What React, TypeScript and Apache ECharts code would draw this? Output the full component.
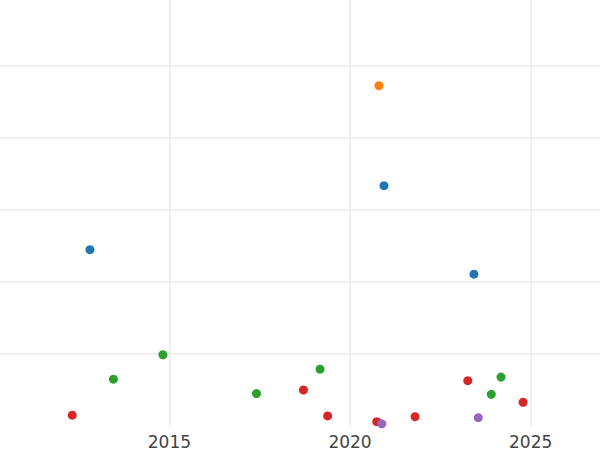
import React, { useEffect, useRef } from "react";
import * as echarts from "echarts";

const xTickLabels = ["2015", "2020", "2025"];
const xMin = 2010.31;
const xMax = 2026.92;

const blueSeries: [number, number][] = [
  [2012.8, 2.45],
  [2020.94, 3.34],
  [2023.43, 2.11],
];
const orangeSeries: [number, number][] = [[2020.8, 4.73]];
const greenSeries: [number, number][] = [
  [2013.45, 0.65],
  [2014.82, 0.99],
  [2017.41, 0.45],
  [2019.17, 0.79],
  [2023.91, 0.44],
  [2024.18, 0.68],
];
const redSeries: [number, number][] = [
  [2012.31, 0.15],
  [2018.71, 0.5],
  [2019.38, 0.14],
  [2020.74, 0.06],
  [2021.8, 0.13],
  [2023.26, 0.63],
  [2024.79, 0.33],
];
const purpleSeries: [number, number][] = [
  [2020.88, 0.03],
  [2023.55, 0.115],
];

const seriesList = [
  { name: "A", color: "#1f77b4", data: blueSeries },
  { name: "B", color: "#ff7f0e", data: orangeSeries },
  { name: "C", color: "#2ca02c", data: greenSeries },
  { name: "D", color: "#d62728", data: redSeries },
  { name: "E", color: "#9467bd", data: purpleSeries },
];

export default function App() {
  const ref = useRef<HTMLDivElement>(null);
  useEffect(() => {
    if (!ref.current) return;
    const chart = echarts.init(ref.current, undefined, { renderer: "svg" });
    chart.setOption({
      animation: false,
      backgroundColor: "#ffffff",
      grid: { left: 0, right: 0, top: 0, bottom: 24, containLabel: false },
      xAxis: {
        type: "value",
        min: xMin,
        max: xMax,
        splitNumber: 3,
        axisLine: { show: false },
        axisTick: { show: false },
        axisLabel: {
          showMinLabel: false,
          showMaxLabel: false,
          color: "#444444",
          fontSize: 17,
          fontFamily: "DejaVu Sans",
          margin: 7,
          formatter: (v: number) => {
            const s = String(Math.round(v));
            return xTickLabels.includes(s) ? s : "";
          },
        },
        splitLine: {
          show: true,
          showMinLine: false,
          showMaxLine: false,
          lineStyle: { color: "#ebebeb", width: 1.5 },
        },
      },
      yAxis: {
        type: "value",
        min: 0,
        max: 5.92,
        interval: 1,
        axisLine: { show: false },
        axisTick: { show: false },
        axisLabel: { show: false },
        splitLine: {
          show: true,
          showMinLine: false,
          showMaxLine: false,
          lineStyle: { color: "#ebebeb", width: 1.5 },
        },
      },
      series: seriesList.map((s) => ({
        name: s.name,
        type: "scatter",
        symbol: "circle",
        symbolSize: 9,
        itemStyle: { color: s.color, opacity: 1 },
        data: s.data,
      })),
    });
    return () => chart.dispose();
  }, []);
  return (
    <div
      ref={ref}
      style={{ position: "fixed", left: 0, top: 0, width: 600, height: 450 }}
    />
  );
}
